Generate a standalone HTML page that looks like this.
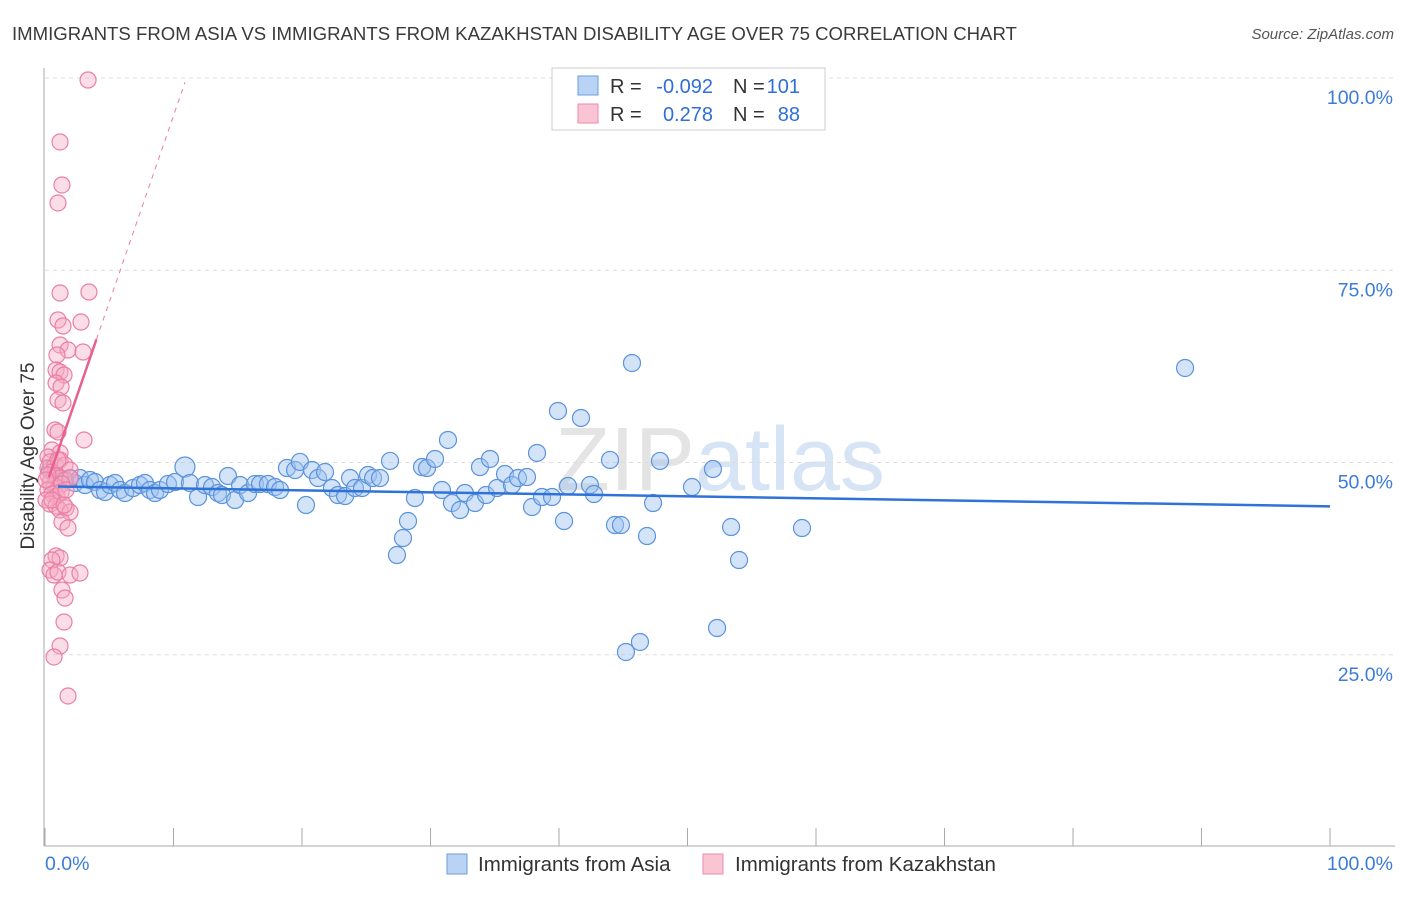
<!DOCTYPE html>
<html><head><meta charset="utf-8"><style>
body{margin:0;background:#fff;font-family:"Liberation Sans",sans-serif;}
svg text{font-family:"Liberation Sans",sans-serif;}
</style></head><body>
<svg id="chart" width="1406" height="892">
<text x="12" y="40" font-size="18.6" fill="#3a3a3a">IMMIGRANTS FROM ASIA VS IMMIGRANTS FROM KAZAKHSTAN DISABILITY AGE OVER 75 CORRELATION CHART</text>
<text x="1394" y="39" font-size="15" fill="#555" text-anchor="end" font-style="italic">Source: ZipAtlas.com</text>
<text x="720" y="490" font-size="90" fill="#e4e4e4" text-anchor="middle" font-family="Liberation Serif">ZIP<tspan fill="#d6e4f5" font-family="Liberation Sans">atlas</tspan></text>
<g id="grid"></g>
<g id="axes"></g>
<g id="marks"></g>
<text transform="translate(34,456) rotate(-90)" font-size="19" fill="#333" text-anchor="middle">Disability Age Over 75</text>
<g>
<rect x="552" y="68" width="273" height="62" fill="#fff" stroke="#ccc"/>
<rect x="578" y="76" width="20" height="19" fill="#b9d3f5" stroke="#6a9de0"/>
<rect x="578" y="104" width="20" height="19" fill="#f9c5d5" stroke="#ec8aaa"/>
<text x="610" y="93" font-size="20" fill="#333">R =</text>
<text x="713" y="93" font-size="20" fill="#2f6fd6" text-anchor="end">-0.092</text>
<text x="733" y="93" font-size="20" fill="#333">N =</text>
<text x="800" y="93" font-size="20" fill="#2f6fd6" text-anchor="end">101</text>
<text x="610" y="121" font-size="20" fill="#333">R =</text>
<text x="713" y="121" font-size="20" fill="#2f6fd6" text-anchor="end">0.278</text>
<text x="733" y="121" font-size="20" fill="#333">N =</text>
<text x="800" y="121" font-size="20" fill="#2f6fd6" text-anchor="end">88</text>
</g>
<g>
<rect x="447" y="854" width="20" height="20" fill="#b9d3f5" stroke="#6a9de0"/>
<text x="478" y="871" font-size="20.5" fill="#333">Immigrants from Asia</text>
<rect x="703" y="854" width="20" height="20" fill="#f9c5d5" stroke="#ec8aaa"/>
<text x="735" y="871" font-size="20.5" fill="#333">Immigrants from Kazakhstan</text>
</g>
</svg>
<script>
const NS="http://www.w3.org/2000/svg";
const yTicks=[25,50,75,100];
const yTickLabels=["25.0%","50.0%","75.0%","100.0%"];
const xTickVals=[0,10,20,30,40,50,60,70,80,90,100];
const asiaPx=[[50,470],[55,475],[60,478],[65,480],[70,478],[75,483],[80,478],[85,485],[90,480],[95,482],[100,490],[105,492],[110,485],[115,483],[120,490],[125,493],[133,488],[140,485],[145,483],[150,490],[155,493],[160,490],[168,484],[175,482],[185,467],[190,483],[198,497],[205,485],[212,487],[218,493],[222,495],[228,476],[235,500],[240,485],[248,493],[255,484],[260,484],[268,484],[275,487],[280,490],[287,468],[295,470],[300,462],[306,505],[312,470],[318,478],[325,472],[332,488],[338,495],[345,496],[350,478],[355,488],[362,488],[368,475],[373,478],[380,478],[390,461],[397,555],[403,538],[408,521],[415,498],[422,467],[427,468],[435,459],[442,490],[448,440],[452,503],[460,510],[465,493],[475,503],[480,467],[486,495],[490,459],[497,488],[505,474],[512,485],[518,478],[527,477],[532,507],[537,453],[542,497],[552,497],[558,411],[564,521],[568,486],[581,418],[590,485],[594,494],[610,460],[615,525],[621,525],[626,652],[632,363],[640,642],[647,536],[653,503],[660,461],[692,487],[713,469],[717,628],[731,527],[739,560],[802,528],[1185,368]];
const kazPx=[[88,80],[60,142],[62,185],[58,203],[60,293],[89,292],[58,320],[63,326],[81,322],[60,345],[68,350],[83,352],[57,355],[56,370],[60,372],[64,375],[56,383],[61,387],[58,400],[63,403],[55,430],[58,432],[84,440],[52,450],[60,453],[48,457],[50,462],[55,465],[60,460],[65,465],[70,470],[48,468],[52,472],[56,476],[60,478],[65,480],[70,478],[50,482],[54,485],[58,488],[62,484],[48,490],[52,494],[57,496],[61,492],[46,500],[50,504],[56,506],[60,510],[66,508],[70,512],[62,522],[68,528],[56,556],[60,558],[52,560],[50,570],[54,575],[58,572],[70,575],[80,573],[62,590],[65,598],[64,622],[60,646],[54,657],[68,696],[48,475],[46,480],[52,500],[58,460],[64,505],[66,490]];
const asiaX=asiaPx.map(p=>+((p[0]-45)/12.85).toFixed(2));
const asiaY=asiaPx.map(p=>+((847-p[1])/7.69).toFixed(2));
const kazX=kazPx.map(p=>+((p[0]-45)/12.85).toFixed(2));
const kazY=kazPx.map(p=>+((847-p[1])/7.69).toFixed(2));
const asiaTrend=[46.9,44.3];
const kazTrend=[46.6,4.85];
const sx=v=>45+v*12.85, sy=v=>847-v*7.69;
function mk(tag,at,parent){const e=document.createElementNS(NS,tag);for(const k in at)e.setAttribute(k,at[k]);document.getElementById(parent).appendChild(e);return e;}
yTicks.forEach((t,i)=>{
 const l=mk("line",{x1:45,x2:1395,y1:sy(t),y2:sy(t),stroke:"#ddd","stroke-dasharray":"4,4"},"grid");
 
 
 const tx=mk("text",{x:1393,y:sy(t)+26,"font-size":19.5,fill:"#3d7bd9","text-anchor":"end"},"axes");
 tx.textContent=yTickLabels[i];
 
 
});
mk("line",{x1:44,x2:44,y1:68,y2:846,stroke:"#aaa"},"axes");
mk("line",{x1:44,x2:1395,y1:846,y2:846,stroke:"#aaa"},"axes");
xTickVals.forEach(v=>{
 const t=mk("line",{x1:sx(v),x2:sx(v),y1:828,y2:846,stroke:"#aaa"},"axes");
 
 
});
const xl=mk("text",{x:45,y:870,"font-size":19.5,fill:"#3d7bd9"},"axes");xl.textContent="0.0%";


const xr=mk("text",{x:1393,y:870,"font-size":19.5,fill:"#3d7bd9","text-anchor":"end"},"axes");xr.textContent="100.0%";


asiaX.forEach((x,i)=>{
 const c=mk("circle",{cx:sx(x),cy:sy(asiaY[i]),r:i==24?10:8.5,fill:"rgba(160,195,240,0.45)",stroke:"#5b93dd","stroke-width":1.2},"marks");
 
 
});
kazX.forEach((x,i)=>{
 const c=mk("circle",{cx:sx(x),cy:sy(kazY[i]),r:8,fill:"rgba(245,170,195,0.4)",stroke:"#ea7fa3","stroke-width":1.2},"marks");
 
 
});
const bl=mk("line",{x1:sx(1),y1:sy(asiaTrend[0]+(asiaTrend[1]-asiaTrend[0])*0.01),x2:sx(100),y2:sy(asiaTrend[1]),stroke:"#2f72d8","stroke-width":2.5},"marks");


const ky=x=>kazTrend[0]+kazTrend[1]*x;
const kd=mk("line",{x1:sx(4),y1:sy(ky(4)),x2:sx(10.9),y2:sy(ky(10.9)),stroke:"#ea7fa3","stroke-width":1,"stroke-dasharray":"5,5"},"marks");


const ks=mk("line",{x1:sx(0.3),y1:sy(ky(0.3)),x2:sx(4),y2:sy(ky(4)),stroke:"#e8608e","stroke-width":2.5},"marks");


</script>
</body></html>
